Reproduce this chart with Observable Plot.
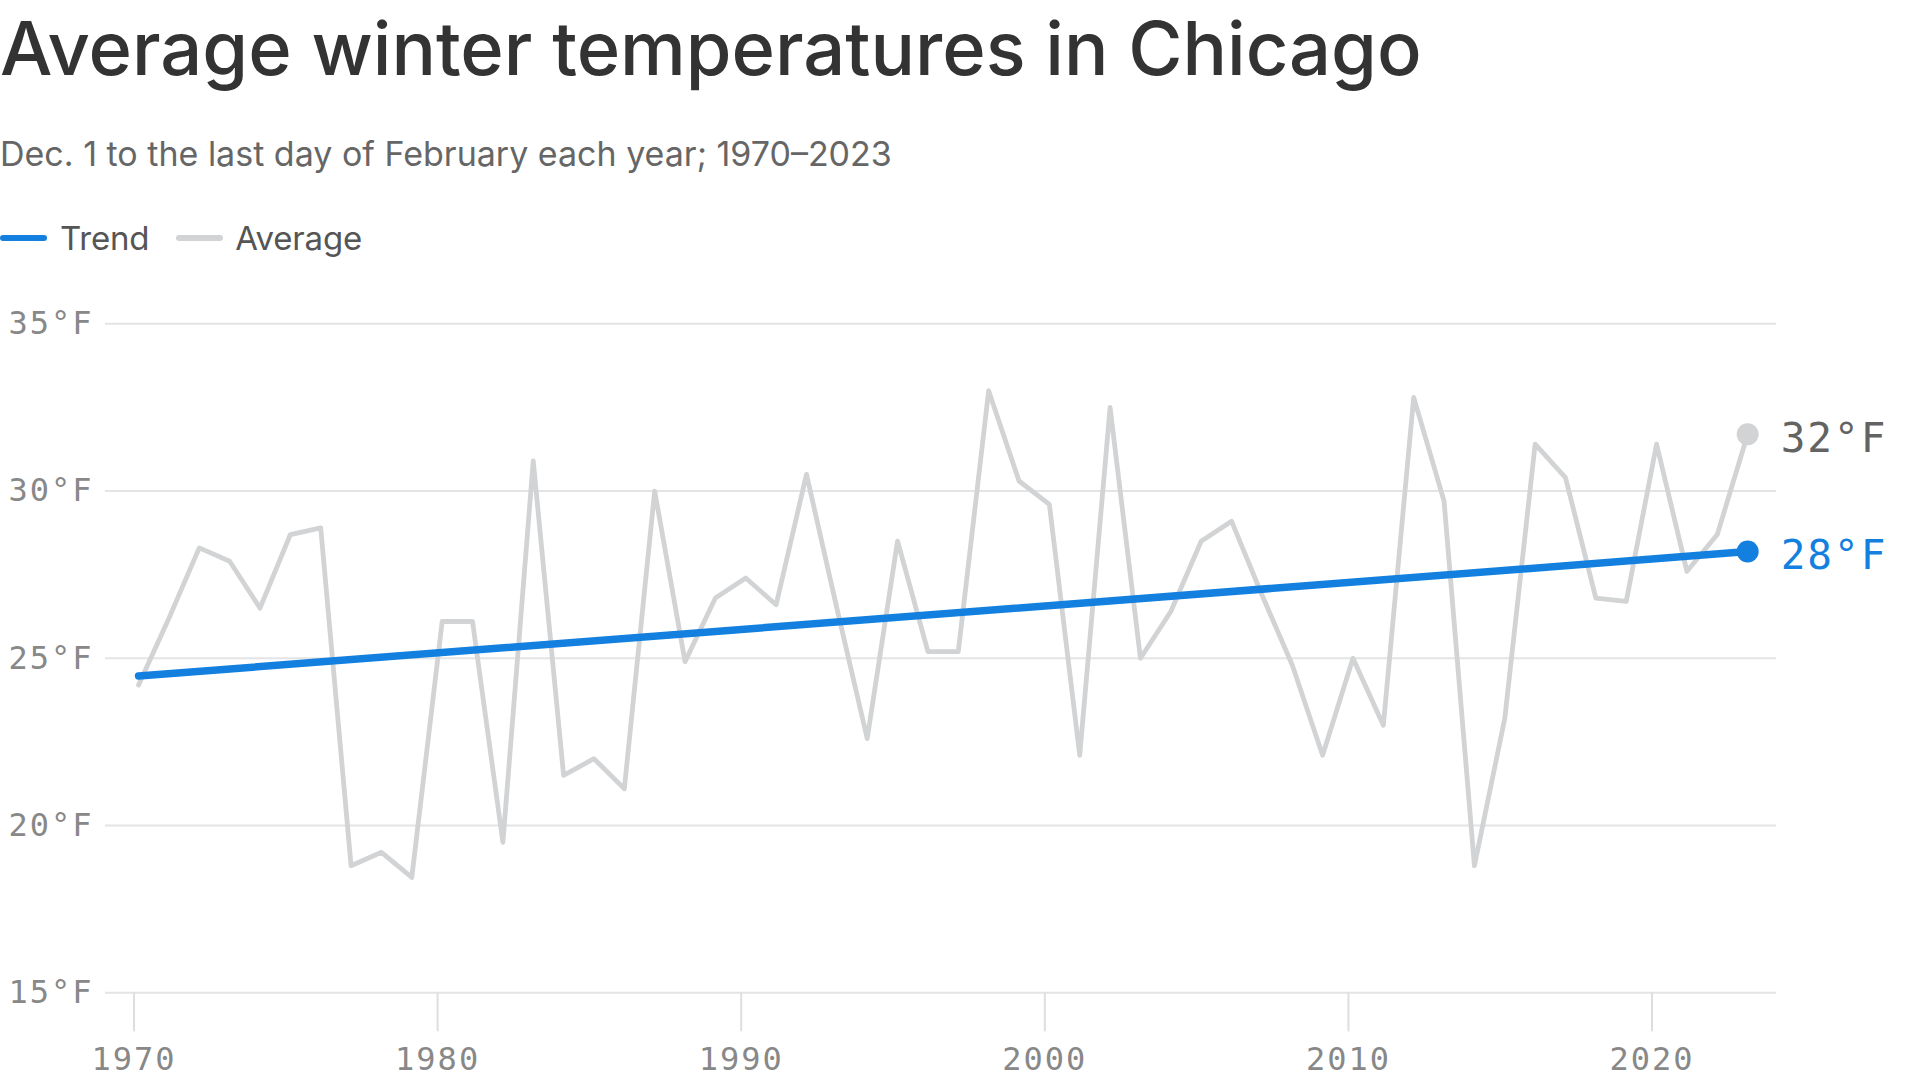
<!DOCTYPE html>
<html>
<head>
<meta charset="utf-8">
<script src="https://cdn.jsdelivr.net/npm/d3@7"></script>
<script src="https://cdn.jsdelivr.net/npm/@observablehq/plot@0.6"></script>
<style>
  html, body { margin: 0; padding: 0; background: #fff; }
  body { width: 1920px; height: 1080px; position: relative; overflow: hidden; }
  #title { position: absolute; left: 0; top: 11px; font-family: Inter, "Noto Sans", sans-serif; font-size: 74px; font-weight: 500; line-height: 1; color: #333; letter-spacing: 0px; white-space: nowrap; }
  #subtitle { position: absolute; left: 0; top: 137px; font-family: Inter, "Noto Sans", sans-serif; font-size: 34px; line-height: 1; color: #666; letter-spacing: 0px; white-space: nowrap; }
  #legend { position: absolute; left: 0; top: 218px; height: 40px; display: flex; align-items: center; font-family: Inter, "Noto Sans", sans-serif; font-size: 33px; color: #555; white-space: nowrap; letter-spacing: -0.2px; }
  .sw { display: inline-block; width: 47px; height: 6px; border-radius: 3px; }
  #chart { position: absolute; left: 0; top: 280px; }
  #chart svg text { letter-spacing: 2px; }
</style>
</head>
<body>
<div id="title">Average winter temperatures in Chicago</div>
<div id="subtitle">Dec. 1 to the last day of February each year; 1970–2023</div>
<div id="legend">
  <span class="sw" style="background:#1380df"></span><span style="margin-left:13px">Trend</span>
  <span class="sw" style="background:#d1d3d4; margin-left:27px"></span><span style="margin-left:12px">Average</span>
</div>
<div id="chart"></div>
<script>
const years = [1970,1971,1972,1973,1974,1975,1976,1977,1978,1979,
               1980,1981,1982,1983,1984,1985,1986,1987,1988,1989,
               1990,1991,1992,1993,1994,1995,1996,1997,1998,1999,
               2000,2001,2002,2003,2004,2005,2006,2007,2008,2009,
               2010,2011,2012,2013,2014,2015,2016,2017,2018,2019,
               2020,2021,2022,2023];
const avgTemps = [24.2,26.2,28.3,27.9,26.5,28.7,28.9,18.8,19.2,18.45,
                  26.1,26.1,19.5,30.9,21.5,22.0,21.1,30.0,24.9,26.8,
                  27.4,26.6,30.5,26.5,22.6,28.5,25.2,25.2,33.0,30.3,
                  29.6,22.1,32.5,25.0,26.4,28.5,29.1,26.9,24.8,22.1,
                  25.0,23.0,32.8,29.7,18.8,23.2,31.4,30.4,26.8,26.7,
                  31.4,27.6,28.7,31.7];
const trendYears = [1970, 2023];
const trendTemps = [24.47, 28.19];
const yTicks = [15, 20, 25, 30, 35];
const xTicks = [1970, 1980, 1990, 2000, 2010, 2020];

const BLUE = "#1380df";
const GRAY = "#d1d3d4";
const OFFSET = 0.15; // winter ends late February

const avg = years.map((y, i) => ({year: y, temp: avgTemps[i]}));
const trend = trendYears.map((y, i) => ({year: y, temp: trendTemps[i]}));
const lastAvg = avg[avg.length - 1];
const lastTrend = trend[trend.length - 1];

const chart = Plot.plot({
  width: 1920,
  height: 800,
  marginLeft: 105,
  marginRight: 144,
  marginTop: 43.3,
  marginBottom: 87.7,
  style: {fontFamily: "'DejaVu Sans Mono', monospace", fontSize: "32px", background: "transparent", overflow: "visible"},
  x: {domain: [1969.061, 2024.10]},
  y: {domain: [15, 35]},
  marks: [
    Plot.ruleY(yTicks, {stroke: "#e4e4e4", strokeWidth: 2}),
    Plot.axisY({ticks: yTicks, tickFormat: d => `${d}°F`, tickSize: 0, tickPadding: 12, fill: "#888", fontSize: 32, label: null}),
    Plot.axisX({ticks: xTicks, tickFormat: d => String(d), tickSize: 39, tickPadding: 15, stroke: "#dedede", strokeWidth: 2, strokeOpacity: 1, fill: "#888", fontSize: 32, label: null}),
    Plot.lineY(avg, {x: d => d.year + OFFSET, y: "temp", stroke: GRAY, strokeWidth: 4.8, strokeLinejoin: "round", strokeLinecap: "round"}),
    Plot.lineY(trend, {x: d => d.year + OFFSET, y: "temp", stroke: BLUE, strokeWidth: 7.5, strokeLinecap: "round"}),
    Plot.dot([lastAvg], {x: d => d.year + OFFSET, y: "temp", r: 11, fill: GRAY}),
    Plot.dot([lastTrend], {x: d => d.year + OFFSET, y: "temp", r: 11, fill: BLUE}),
    Plot.text([lastAvg], {x: d => d.year + OFFSET, y: "temp", text: d => `${Math.round(d.temp)}°F`, dx: 33, dy: 5, textAnchor: "start", fill: "#636363", fontSize: 41}),
    Plot.text([lastTrend], {x: d => d.year + OFFSET, y: "temp", text: d => `${Math.round(d.temp)}°F`, dx: 33, dy: 4, textAnchor: "start", fill: BLUE, fontSize: 41})
  ]
});
document.getElementById("chart").appendChild(chart);
</script>
</body>
</html>
